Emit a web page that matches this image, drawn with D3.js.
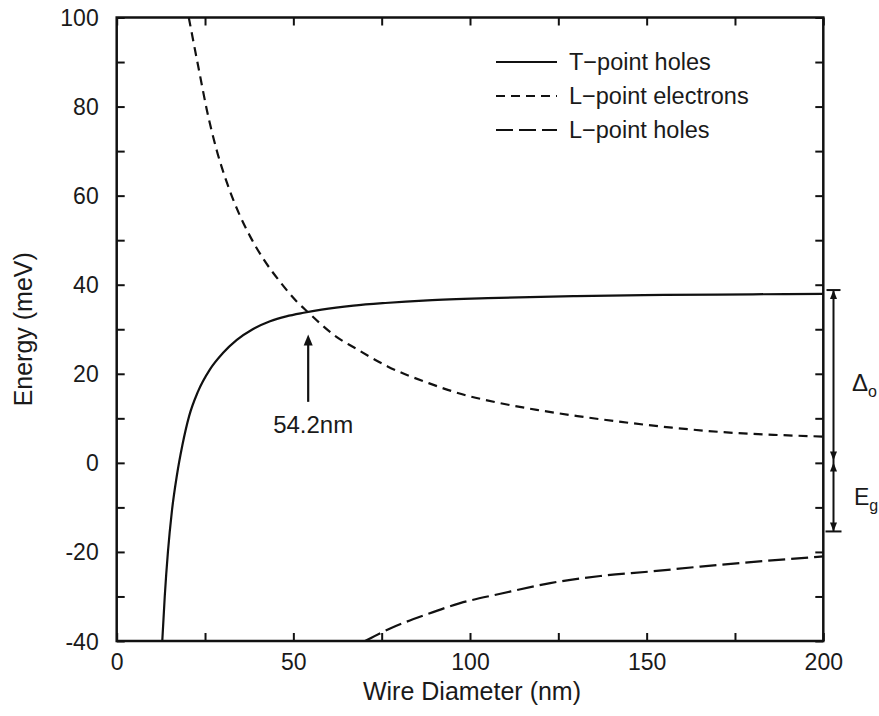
<!DOCTYPE html>
<html>
<head>
<meta charset="utf-8">
<script src="https://cdn.jsdelivr.net/npm/d3@7"></script>
<style>
  html, body { margin: 0; padding: 0; background: #fff; overflow: hidden; }
  svg { display: block; }
  text { font-family: "Liberation Sans", Arial, Helvetica, sans-serif; fill: #1a1a1a; }
</style>
</head>
<body>
<svg id="chart" width="879" height="716"></svg>
<script>
// ---- data ----
const tHolesD = [12.9, 13.6, 14.5, 15.6, 17.0, 18.6, 20.5, 23.0, 26.4, 30.0, 34.0, 38.5, 43.4, 48.0, 52.9, 58.0, 67.0, 76.0, 88.0, 105.0, 130.0, 155.0, 180.0, 200];
const tHolesE = [-40, -30, -20, -11, -3, 4, 10.5, 16.0, 21.0, 24.6, 27.6, 30.0, 31.8, 32.9, 33.7, 34.4, 35.3, 35.9, 36.5, 37.0, 37.45, 37.7, 37.85, 37.95];

const lElecD = [20.4, 23.6, 25.5, 28.3, 31.2, 34.5, 37.8, 41.5, 46.3, 51.0, 54.2, 57.6, 62.0, 67.2, 76.8, 88.3, 97.8, 107.4, 118.9, 130.4, 142.8, 157.2, 171.5, 185.9, 200];
const lElecE = [100, 86.9, 79.3, 70.2, 62.9, 56.2, 50.8, 45.8, 40.6, 36.2, 33.8, 31.3, 28.4, 25.9, 21.6, 17.9, 15.4, 13.6, 11.9, 10.5, 9.2, 7.9, 6.9, 6.3, 5.9];

const lHolesD = [70.3, 77.4, 87.8, 97.2, 108.6, 122.7, 136.9, 151.0, 165.2, 184.0, 200];
const lHolesE = [-40, -37.2, -34.0, -31.5, -29.4, -27.0, -25.4, -24.4, -23.3, -22.0, -21.0];

const seriesNames = ["T\u2212point holes", "L\u2212point electrons", "L\u2212point holes"];
const xTickLabels = [0, 50, 100, 150, 200];
const yTickLabels = [-40, -20, 0, 20, 40, 60, 80, 100];
const xMinorTicks = [0, 25, 50, 75, 100, 125, 150, 175, 200];
const yMinorTicks = [-40, -30, -20, -10, 0, 10, 20, 30, 40, 50, 60, 70, 80, 90, 100];

const crossD = 54.2;           // annotated crossing
const crossLabel = "54.2nm";
const arrowFromE = 13.7, arrowToE = 28.8;
const deltaTop = 38.8, bandMid = 0.3, egBottom = -15.4;

// ---- layout ----
const svg = d3.select("#chart");
const L = 116.7, R = 823.3, T = 17.5, B = 641;
const x = d3.scaleLinear().domain([0, 200]).range([L, R]);
const y = d3.scaleLinear().domain([-40, 100]).range([B, T]);
const ink = "#111";
const FONT = "'Liberation Sans', Arial, sans-serif";

svg.append("defs").append("clipPath").attr("id", "plotclip")
  .append("rect").attr("x", L).attr("y", T).attr("width", R - L).attr("height", B - T);

// ticks (inward on all four sides) using axes
const tickLen = 8;
svg.append("g").attr("transform", `translate(0,${B})`)
  .call(d3.axisTop(x).tickValues(xMinorTicks).tickSize(tickLen).tickFormat(""))
  .call(g => g.select(".domain").remove());
svg.append("g").attr("transform", `translate(0,${T})`)
  .call(d3.axisBottom(x).tickValues(xMinorTicks).tickSize(tickLen).tickFormat(""))
  .call(g => g.select(".domain").remove());
svg.append("g").attr("transform", `translate(${L},0)`)
  .call(d3.axisRight(y).tickValues(yMinorTicks).tickSize(tickLen).tickFormat(""))
  .call(g => g.select(".domain").remove());
svg.append("g").attr("transform", `translate(${R},0)`)
  .call(d3.axisLeft(y).tickValues(yMinorTicks).tickSize(tickLen).tickFormat(""))
  .call(g => g.select(".domain").remove());
svg.selectAll(".tick line").attr("stroke", ink).attr("stroke-width", 2);

// tick labels
const xl = svg.append("g").attr("transform", `translate(0,${B + 10})`)
  .call(d3.axisBottom(x).tickValues(xTickLabels).tickSize(0).tickFormat(d3.format("d")));
xl.select(".domain").remove();
xl.selectAll("text").attr("font-size", 23).attr("dy", "0.71em")
  .style("font-family", FONT).attr("fill", "#1a1a1a");

const yl = svg.append("g").attr("transform", `translate(${L - 18},0)`)
  .call(d3.axisLeft(y).tickValues(yTickLabels).tickSize(0).tickFormat(d => String(d)));
yl.select(".domain").remove();
yl.selectAll("text").attr("font-size", 23).attr("x", 0).attr("dy", "0.35em")
  .style("font-family", FONT).attr("fill", "#1a1a1a");

// axis titles
svg.append("text").attr("x", x(100) + 2).attr("y", 700).attr("text-anchor", "middle")
  .attr("font-size", 25).text("Wire Diameter (nm)");
svg.append("text").attr("transform", `translate(32,${y(30)}) rotate(-90)`)
  .attr("text-anchor", "middle").attr("font-size", 25).text("Energy (meV)");

// curves
const line = d3.line().x(d => x(d[0])).y(d => y(d[1])).curve(d3.curveMonotoneX);
const plot = svg.append("g").attr("clip-path", "url(#plotclip)");
const series = [
  { d: tHolesD, e: tHolesE, dash: null },
  { d: lElecD, e: lElecE, dash: "9,6" },
  { d: lHolesD, e: lHolesE, dash: "17,6" }
];
series.forEach(s => {
  plot.append("path").datum(d3.zip(s.d, s.e))
    .attr("d", line).attr("fill", "none").attr("stroke", ink)
    .attr("stroke-width", 2.2).attr("stroke-dasharray", s.dash);
});

// frame
svg.append("rect").attr("x", L).attr("y", T).attr("width", R - L).attr("height", B - T)
  .attr("fill", "none").attr("stroke", ink).attr("stroke-width", 2.5);

// legend
const legY = [62, 96, 130];
series.forEach((s, i) => {
  svg.append("line").attr("x1", 496).attr("x2", 557).attr("y1", legY[i]).attr("y2", legY[i])
    .attr("stroke", ink).attr("stroke-width", 2.2).attr("stroke-dasharray", s.dash);
  svg.append("text").attr("x", 569).attr("y", legY[i]).attr("dy", "0.35em")
    .attr("font-size", 23.5).text(seriesNames[i]);
});

// crossing annotation arrow
const ax = x(crossD);
svg.append("line").attr("x1", ax).attr("x2", ax).attr("y1", y(arrowFromE)).attr("y2", y(arrowToE) + 8)
  .attr("stroke", ink).attr("stroke-width", 2.2);
svg.append("path")
  .attr("d", `M${ax},${y(arrowToE)} L${ax - 4.5},${y(arrowToE) + 11} L${ax + 4.5},${y(arrowToE) + 11} Z`)
  .attr("fill", ink);
svg.append("text").attr("x", ax + 5).attr("y", 433).attr("text-anchor", "middle")
  .attr("font-size", 24).text(crossLabel);

// bracket arrows on the right
const bx = 833.5;
const bk = svg.append("g").attr("stroke", ink).attr("stroke-width", 2);
bk.append("line").attr("x1", bx).attr("x2", bx).attr("y1", y(deltaTop)).attr("y2", y(egBottom));
[[deltaTop, 7], [egBottom, 8]].forEach(([v, w]) => {
  bk.append("line").attr("x1", bx - w).attr("x2", bx + w).attr("y1", y(v)).attr("y2", y(v));
});
function head(yTip, dir) { // dir: +1 pointing down, -1 pointing up
  svg.append("path")
    .attr("d", `M${bx},${yTip} L${bx - 3.5},${yTip - dir * 9} L${bx + 3.5},${yTip - dir * 9} Z`)
    .attr("fill", ink);
}
head(y(deltaTop), -1);
head(y(bandMid) - 1, 1);
head(y(bandMid) + 1, -1);
head(y(egBottom), 1);

const lab = svg.append("g");
const dl = lab.append("text").attr("x", 852).attr("y", 391).attr("font-size", 24);
dl.append("tspan").text("\u0394");
dl.append("tspan").attr("font-size", 16).attr("dy", 6).text("o");
const el = lab.append("text").attr("x", 854).attr("y", 505).attr("font-size", 23);
el.append("tspan").text("E");
el.append("tspan").attr("font-size", 16).attr("dy", 6).text("g");
</script>
</body>
</html>
